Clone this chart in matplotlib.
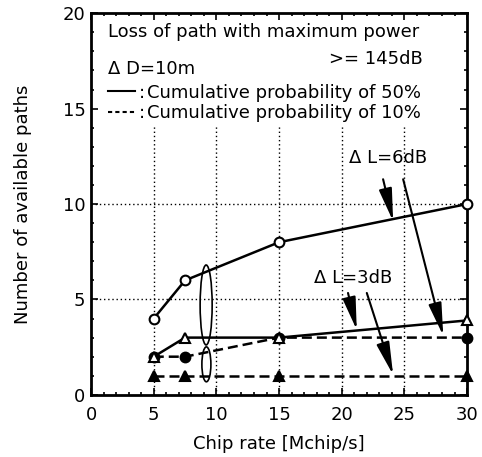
import matplotlib
matplotlib.use("Agg")
import matplotlib.pyplot as plt
from matplotlib.patches import Ellipse
from matplotlib.ticker import MultipleLocator

plt.rcParams["font.family"] = ["DejaVu Sans"]

chip_rate = [5, 7.5, 15, 30]
l6_p50 = [4, 6, 8, 10]      # open circles, solid
l3_p50 = [2, 3, 3, 3.9]     # open triangles, solid
l6_p10 = [2, 2, 3, 3]       # filled circles, dashed
l3_p10 = [1, 1, 1, 1]       # filled triangles, dashed

fig = plt.figure(figsize=(4.82, 4.57), dpi=100)
ax = fig.add_axes([0.189, 0.136, 0.78, 0.835])

ax.set_xlim(0, 30)
ax.set_ylim(0, 20)

# dotted grid, kept below the text block
for gx in [5, 10, 15, 20, 25]:
    ax.plot([gx, gx], [0, 14.1], color="black", lw=1.0, ls=(0, (1, 2)), zorder=1)
for gy in [5, 10]:
    ax.plot([0, 30], [gy, gy], color="black", lw=1.0, ls=(0, (1, 2)), zorder=1)

dash = (0, (4, 2))
kw = dict(color="black", lw=1.8, ms=7, mew=1.5, zorder=3, clip_on=False)
ax.plot(chip_rate, l3_p10, ls=dash, marker="^", mfc="black", **kw)
ax.plot(chip_rate, l6_p10, ls=dash, marker="o", mfc="black", **kw)
ax.plot(chip_rate, l3_p50, ls="-", marker="^", mfc="white", **kw)
ax.plot(chip_rate, l6_p50, ls="-", marker="o", mfc="white", **kw)

# grouping ellipses
ax.add_patch(Ellipse((9.18, 4.71), 0.96, 4.19, fill=False, lw=1.2, zorder=4))
ax.add_patch(Ellipse((9.2, 1.6), 0.72, 1.83, fill=False, lw=1.2, zorder=4))

fs = 13
ax.text(1.36, 18.74, "Loss of path with maximum power", fontsize=fs, va="baseline")
ax.text(26.5, 17.33, ">= 145dB", fontsize=fs, va="baseline", ha="right")
ax.text(1.36, 16.8, "\u0394 D=10m", fontsize=fs, va="baseline")
ax.plot([1.36, 3.5], [15.9, 15.9], color="black", lw=1.5)
ax.text(3.85, 15.55, ":", fontsize=fs, va="baseline")
ax.text(4.5, 15.55, "Cumulative probability of 50%", fontsize=fs, va="baseline")
ax.plot([1.36, 3.5], [14.8, 14.8], color="black", lw=1.5, ls=(0, (2, 1.5)))
ax.text(3.85, 14.5, ":", fontsize=fs, va="baseline")
ax.text(4.5, 14.5, "Cumulative probability of 10%", fontsize=fs, va="baseline")

ax.text(23.7, 12.15, "\u0394 L=6dB", fontsize=fs, ha="center", va="baseline")
ax.text(20.9, 5.86, "\u0394 L=3dB", fontsize=fs, ha="center", va="baseline")

arrow_kw = dict(arrowstyle="-|>,head_length=2.0,head_width=0.4", color="black", lw=1.5,
                shrinkA=0, shrinkB=0)
for start, tip in [((23.3, 11.3), (24.1, 9.1)),
                   ((24.9, 11.3), (28.1, 3.1)),
                   ((20.5, 5.34), (21.2, 3.4)),
                   ((22.0, 5.34), (24.1, 1.05))]:
    ax.annotate("", xy=tip, xytext=start, arrowprops=arrow_kw, zorder=5)

ax.xaxis.set_major_locator(MultipleLocator(5))
ax.xaxis.set_minor_locator(MultipleLocator(1))
ax.yaxis.set_major_locator(MultipleLocator(5))
ax.yaxis.set_minor_locator(MultipleLocator(1))
ax.tick_params(which="both", direction="in", top=True, right=True, labelsize=13, width=1.2)
ax.tick_params(which="major", length=5)
ax.tick_params(axis="x", which="major", pad=8)
ax.tick_params(axis="y", which="major", pad=4)
ax.tick_params(which="minor", length=2.5)
for s in ax.spines.values():
    s.set_linewidth(2)

ax.set_xlabel("Chip rate [Mchip/s]", fontsize=13, labelpad=8)
ax.set_ylabel("Number of available paths", fontsize=13, labelpad=22)

fig.savefig("out.png", dpi=100, facecolor="white")
